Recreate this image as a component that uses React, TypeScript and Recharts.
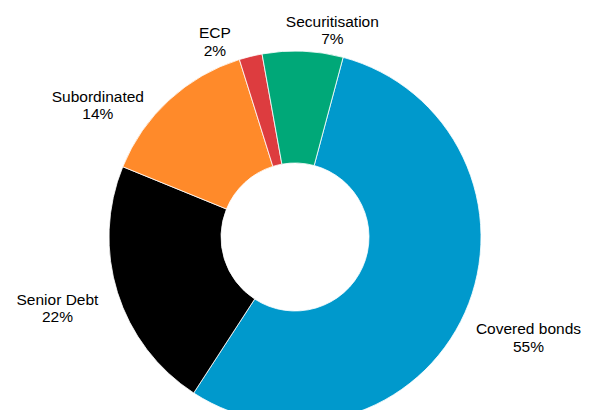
import { PieChart, Pie, Cell } from 'recharts';

const categories = ['Covered bonds', 'Senior Debt', 'Subordinated', 'ECP', 'Securitisation'];
const shares = [55, 22, 14, 2, 7];
const colors = ['#0099CC', '#000000', '#FF8A2A', '#DD3C3F', '#00A878'];

const data = categories.map((name, i) => ({ name, value: shares[i] }));

const WIDTH = 589;
const HEIGHT = 418;
const FONT = '15.5px "Liberation Sans", Arial, sans-serif';
const LINE = 17.5;
const START = 75; // first slice starts at 15deg past 12 o'clock, goes clockwise
const LABEL_GAP = 55; // min horizontal space between crowded top labels
const EDGE = 8; // keep labels this far from the chart sides

let ctx: CanvasRenderingContext2D | null = null;
function textWidth(s: string) {
  if (!ctx) ctx = document.createElement('canvas').getContext('2d');
  if (!ctx) return s.length * 8;
  ctx.font = FONT;
  return ctx.measureText(s).width;
}

type Box = { x: number; y: number; w: number; c: number };

// outside-end labels, roughly the way a spreadsheet lays them out
function layoutLabels(cx: number, cy: number, R: number): Box[] {
  const total = shares.reduce((a, b) => a + b, 0);
  const A = R + 22;
  const B = (c: number) => R + 23 + 95 * Math.max(0, -c);
  let acc = 90 - START;
  const boxes = shares.map((v, i) => {
    const mid = ((acc + (v / total) * 180) * Math.PI) / 180;
    acc += (v / total) * 360;
    const s = Math.sin(mid);
    const c = Math.cos(mid);
    const w = Math.max(textWidth(categories[i]), textWidth(`${v}%`));
    return { x: cx + s * (A + w / 2), y: cy - c * B(c), w, c };
  });

  // spread the crowded labels along the top
  const top = boxes.filter((b) => b.c > 0.3).sort((a, b) => a.x - b.x);
  for (let it = 0; it < 50; it++) {
    for (let i = 0; i < top.length - 1; i++) {
      const l = top[i];
      const r = top[i + 1];
      const need = l.x + l.w / 2 + LABEL_GAP - (r.x - r.w / 2);
      if (need <= 0) continue;
      if (l.x < cx && r.x > cx) {
        l.x -= need / 2;
        r.x += need / 2;
      } else if (r.x <= cx) {
        l.x -= need;
      } else {
        r.x += need;
      }
    }
  }
  // keep moved labels on the same oval
  for (const b of top) {
    const s = Math.max(-1, Math.min(1, (b.x - cx) / (A + b.w / 2)));
    const c = Math.sqrt(1 - s * s);
    b.y = cy - c * B(c);
  }
  // keep every label inside the chart
  for (const b of boxes) {
    b.x = Math.max(b.w / 2 + EDGE, Math.min(WIDTH - b.w / 2 - EDGE, b.x));
  }
  return boxes;
}

function renderLabel(props: any) {
  const { cx, cy, outerRadius, index, name, value } = props;
  const { x, y } = layoutLabels(cx, cy, outerRadius)[index];
  return (
    <text x={x} y={y} textAnchor="middle" fill="#000" style={{ font: FONT }}>
      <tspan x={x} dy={-3.4}>{name}</tspan>
      <tspan x={x} dy={LINE}>{`${value}%`}</tspan>
    </text>
  );
}

export default function App() {
  return (
    <div style={{ margin: -8 }}>
      <PieChart width={WIDTH} height={HEIGHT} margin={{ top: 0, right: 0, bottom: 0, left: 0 }}>
        <Pie
          data={data}
          dataKey="value"
          nameKey="name"
          cx={295}
          cy={237}
          innerRadius={74}
          outerRadius={186}
          startAngle={START}
          endAngle={START - 360}
          stroke="#fff"
          strokeWidth={0.8}
          label={renderLabel}
          labelLine={false}
          isAnimationActive={false}
        >
          {data.map((d, i) => (
            <Cell key={d.name} fill={colors[i]} />
          ))}
        </Pie>
      </PieChart>
    </div>
  );
}
